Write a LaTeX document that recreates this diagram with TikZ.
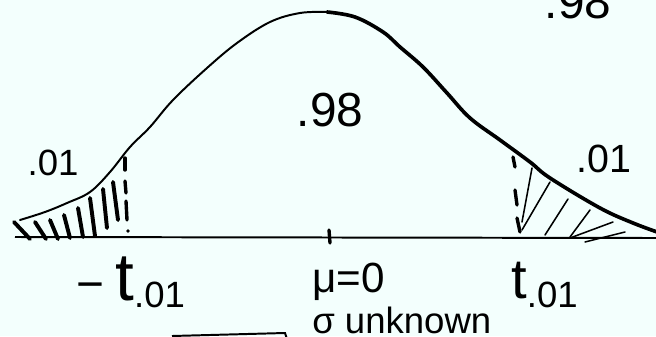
\documentclass[tikz,border=0pt]{standalone}
\usepackage{fontspec}
\setmainfont{Liberation Sans}
\definecolor{paper}{RGB}{243,255,253}
\tikzset{
  hand/.style={font=\fontsize{#1}{#1}\selectfont, inner sep=0pt},
  hatchL/.style={line width=2.8pt, line cap=round},
  hatchR/.style={line width=1.1pt, line cap=round},
  cutline/.style={line width=2.4pt, line cap=round},
}
\begin{document}
\begin{tikzpicture}[x=0.025cm, y=-0.025cm]
    % Paper
    \fill[paper] (0,0) rectangle (656,336);
    \useasboundingbox (0,0) rectangle (656,336);

    % Axis
    \coordinate (ax0) at (15,237);
    \coordinate (ax1) at (656,238);
    \draw[line width=1.4pt] (ax0) -- (ax1);

    % Bell curve (left half thin, right half heavy)
    \draw[line width=1.4pt, line cap=round] plot[smooth, tension=0.6] coordinates
        {(20,220) (45,212) (67,203) (90,192) (110,172) (130,147) (150,127)
         (173,100) (207,68) (237,43) (270,22) (300,13) (327,12)};
    \draw[line width=2.6pt, line cap=round] plot[smooth, tension=0.6] coordinates
        {(327,12) (355,17) (383,32) (400,47) (423,67) (447,93) (470,118)
         (500,140) (530,162) (550,178) (600,208) (633,223) (660,233)};

    % Left tail: cut line and hatching
    \coordinate (cl) at (128,231);
    \draw[cutline] (125,158) -- (125,170);
    \draw[cutline] (125,181) -- (126,193);
    \draw[cutline] (126,201) -- (127,220);
    \fill (cl) circle (1.8);
    \draw[hatchL] (14,222) -- (30,239);
    \draw[hatchL] (35,222) -- (46,239);
    \draw[hatchL] (50,220) -- (58,239);
    \draw[hatchL] (64,215) -- (70,238);
    \draw[hatchL] (78,208) -- (83,237);
    \draw[hatchL] (90,198) -- (95,236);
    \draw[hatchL] (103,189) -- (107,228);
    \draw[hatchL] (113,182) -- (118,220);

    % Right tail: cut line and hatching
    \draw[cutline] (513,157) -- (515,167);
    \draw[cutline] (515,190) -- (517,205);
    \draw[cutline] (517,218) -- (520,232);
    \draw[hatchR] (522,222) -- (532,168);
    \draw[hatchR] (522,230) -- (550,182);
    \draw[hatchR] (545,235) -- (568,199);
    \draw[hatchR] (570,237) -- (590,210);
    \draw[hatchR] (570,238) -- (613,222);
    \draw[hatchR] (585,242) -- (625,232);

    % Mean tick
    \coordinate (mu0) at (329,230);
    \coordinate (mu1) at (330,243);
    \draw[cutline] (mu0) -- (mu1);

    % Areas
    \node[hand=26, anchor=base] (pL) at (53,175) {.01};
    \node[hand=34, anchor=base] (pC) at (330,126) {.98};
    \node[hand=34, anchor=base] (pT) at (578,18) {.98};
    \node[hand=28, anchor=base] (pR) at (604,172) {.01};

    % Axis labels
    \node[hand=48, anchor=base west] (tL) at (76,300)
        {{\fontsize{34}{34}\selectfont −}\hspace{8pt}t\raisebox{-5pt}{\fontsize{26}{26}\selectfont .01}};
    \node[hand=40, anchor=base west] (tR) at (511,298)
        {t\raisebox{-7pt}{\fontsize{26}{26}\selectfont .01}};
    \node[hand=30, anchor=base west] (mu) at (312,292) {μ=0};
    \node[hand=26, anchor=base west] (sg) at (312,333) {σ unknown};

    % Box edge at the bottom
    \coordinate (bx0) at (172,336);
    \coordinate (bx1) at (285,333);
    \coordinate (bx2) at (287,339);
    \draw[line width=1.4pt] (bx0) -- (bx1) -- (bx2);
\end{tikzpicture}
\end{document}
